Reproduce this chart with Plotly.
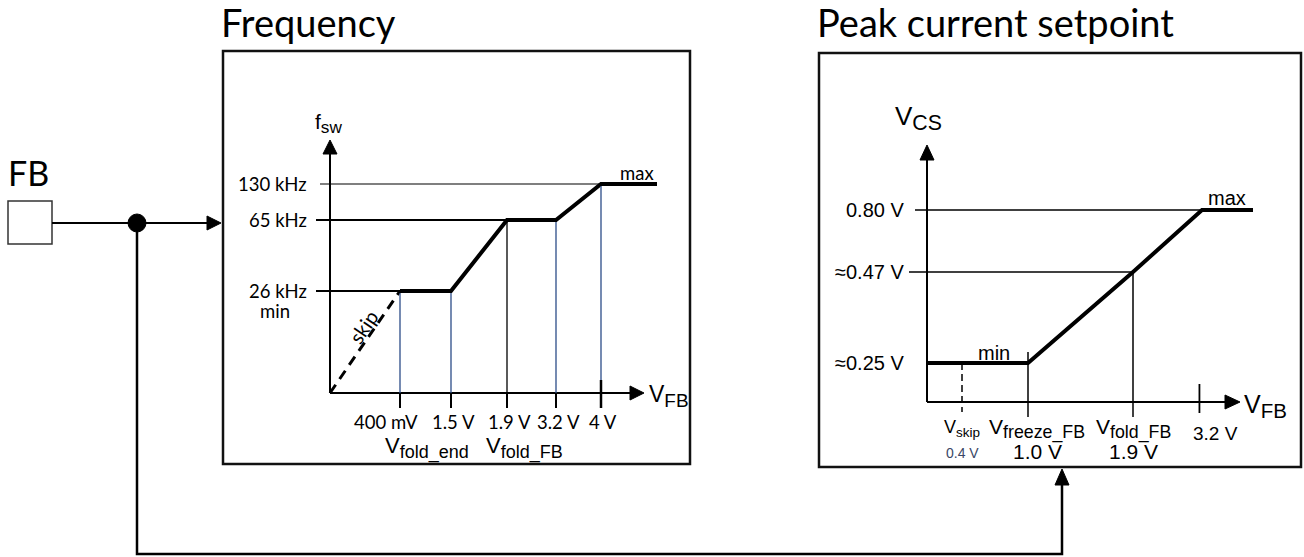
import numpy as np
import plotly.graph_objects as go

# ---------------- data ----------------
# Switching frequency versus feedback voltage
freq_break_v = [0.4, 1.5, 1.9, 3.2, 4.0]
freq_break_labels = ["400 mV", "1.5 V", "1.9 V", "3.2 V", "4 V"]
freq_levels_khz = [26, 65, 130]
freq_level_labels = ["26 kHz", "65 kHz", "130 kHz"]
freq_curve_v = [0.4, 1.5, 1.9, 3.2, 4.0, 4.7]
freq_curve_khz = [26, 26, 65, 65, 130, 130]
freq_skip_v = [0.0, 0.4]
freq_skip_khz = [0, 26]

# Peak current (CS) setpoint versus feedback voltage
vcs_break_v = [0.4, 1.0, 1.9, 3.2]
vcs_levels_v = [0.25, 0.47, 0.80]
vcs_level_labels = ["≈0.25 V", "≈0.47 V", "0.80 V"]
vcs_curve_fb = [0.0, 1.0, 1.9, 3.25, 3.8]
vcs_curve_cs = [0.25, 0.25, 0.47, 0.80, 0.80]

# ---------------- schematic scales (not to scale) ----------------
W, H = 1304, 557
F_X = ([0, 0.4, 1.5, 1.9, 3.2, 4.0, 4.7], [330, 400, 451, 507, 556, 601, 657])
F_Y = ([0, 26, 65, 130], [393, 291, 220, 184])
P_X = ([0, 0.4, 1.0, 1.9, 3.25, 3.8], [927, 962, 1028, 1133, 1202, 1253])
P_Y = ([0, 0.25, 0.47, 0.80], [402, 363, 272, 210])


def sx(v, knots):
    return float(np.interp(v, knots[0], knots[1]))


SANS = "Lato"
ARIAL = "Liberation Sans"
BLUE = "#2c4c88"
INK = "black"

fig = go.Figure()
shapes = []
notes = []


def line(x0, y0, x1, y1, w=2, color=INK, dash=None):
    ln = dict(color=color, width=w)
    if dash:
        ln["dash"] = dash
    shapes.append(dict(type="line", x0=x0, y0=y0, x1=x1, y1=y1, xref="x", yref="y", line=ln))


def tri(pts):
    p = "M " + " L ".join(f"{a},{b}" for a, b in pts) + " Z"
    shapes.append(dict(type="path", path=p, xref="x", yref="y", fillcolor=INK,
                       line=dict(color=INK, width=1)))


def text(x, y, s, size, family=SANS, xa="center", ya="middle", color=INK, angle=0):
    notes.append(dict(x=x, y=y, xref="x", yref="y", text=s, showarrow=False,
                      xanchor=xa, yanchor=ya, textangle=angle,
                      font=dict(size=size, family=family, color=color)))


def sub(main, low, size, ratio=0.82):
    """Symbol with a fairly large subscript."""
    return f'{main}<sub><span style="font-size:{size * ratio:.1f}px">{low}</span></sub>'


# ---------------- frame boxes and titles ----------------
shapes.append(dict(type="rect", x0=223, y0=51, x1=690, y1=464, xref="x", yref="y",
                   line=dict(color="#111", width=2.5)))
shapes.append(dict(type="rect", x0=819, y0=53, x1=1301, y1=467, xref="x", yref="y",
                   line=dict(color="#111", width=2.5)))
text(219, 22, "Frequency", 38, xa="left")
text(815, 22, "Peak current setpoint", 38, xa="left")

# ---------------- FB pin and signal routing ----------------
text(6, 172, "FB", 34, xa="left")
shapes.append(dict(type="rect", x0=8, y0=201, x1=52, y1=244, xref="x", yref="y",
                   line=dict(color="#333", width=1.5)))
line(52, 223, 209, 223, 2)
tri([(221, 223), (207, 216), (207, 230)])
shapes.append(dict(type="path", path="M 137,223 L 137,554 L 1062,554 L 1062,484",
                   xref="x", yref="y", line=dict(color=INK, width=2.5)))
tri([(1062, 469), (1055, 485), (1069, 485)])
shapes.append(dict(type="circle", x0=128, y0=214, x1=146, y1=232, xref="x", yref="y",
                   fillcolor=INK, line=dict(color=INK, width=1)))

# ---------------- Frequency panel ----------------
fo_x, fo_y = sx(0, F_X), sx(0, F_Y)
line(fo_x, fo_y, fo_x, 152, 2)
tri([(fo_x, 140), (fo_x - 7, 154), (fo_x + 7, 154)])
line(fo_x, fo_y, 631, fo_y, 2)
tri([(644, fo_y), (630, fo_y - 7), (630, fo_y + 7)])
text(fo_x - 2, 123, sub("f", "sw", 21), 21, ARIAL)
text(647, fo_y + 3, sub("V", "FB", 23), 23, ARIAL, xa="left")

# horizontal level guides up to where the curve reaches each level
for lvl, lab in zip(freq_levels_khz, freq_level_labels):
    reach = min(v for v, k in zip(freq_curve_v, freq_curve_khz) if k == lvl)
    y = sx(lvl, F_Y)
    x_start = 320 if lvl == max(freq_levels_khz) else 316
    line(x_start, y, sx(reach, F_X), y, 1.2 if lvl == max(freq_levels_khz) else 2)
    text(309, y, lab, 18.5, xa="right")
text(275, 311, "min", 18.5)

# drop lines and ticks at the breakpoints
for v, lab in zip(freq_break_v, freq_break_labels):
    x = sx(v, F_X)
    ytop = sx(float(np.interp(v, freq_curve_v, freq_curve_khz)), F_Y)
    col = INK if v == 1.9 else BLUE
    line(x, ytop + 2, x, fo_y, 1.3, col)
    line(x, fo_y, x, 408, 2)
    text(x + (-14 if v == 0.4 else 2), 422, lab, 18.5)
line(sx(4.0, F_X), 380, sx(4.0, F_X), 408, 2.5)
text(sx(1.0, F_X) - 1, 448, sub("V", "fold_end", 22), 22, ARIAL)
text(sx(2.35, F_X) + 1, 448, sub("V", "fold_FB", 22), 22, ARIAL)

fig.add_trace(go.Scatter(x=[sx(v, F_X) for v in freq_skip_v],
                         y=[sx(k, F_Y) for k in freq_skip_khz], mode="lines",
                         line=dict(color=INK, width=3, dash="10px,7px"), hoverinfo="skip"))
fig.add_trace(go.Scatter(x=[sx(v, F_X) for v in freq_curve_v],
                         y=[sx(k, F_Y) for k in freq_curve_khz], mode="lines",
                         line=dict(color=INK, width=4), hoverinfo="skip"))
text(637, 173, "max", 18.5)
text(363, 327, "skip", 20, angle=-56)

# ---------------- Peak current panel ----------------
po_x, po_y = sx(0, P_X), sx(0, P_Y)
line(po_x, po_y, po_x, 158, 2)
tri([(po_x, 145), (po_x - 7, 160), (po_x + 7, 160)])
line(po_x, po_y, 1226, po_y, 2)
tri([(1240, po_y), (1225, po_y - 7), (1225, po_y + 7)])
text(po_x - 9, 118, sub("V", "CS", 26), 26, ARIAL)
text(1242, po_y + 4, sub("V", "FB", 25), 25, ARIAL, xa="left")

for lvl, lab in zip(vcs_levels_v, vcs_level_labels):
    y = sx(lvl, P_Y)
    if lvl != min(vcs_levels_v):
        reach = min(v for v, c in zip(vcs_curve_fb, vcs_curve_cs) if c == lvl)
        x_start = 915 if lvl == max(vcs_levels_v) else 909
        line(x_start, y, sx(reach, P_X), y, 1.3)
    text(906, y, lab, 20, ARIAL, xa="right")

# V_skip (dashed), V_freeze, V_fold and 3.2 V markers
xs = sx(vcs_break_v[0], P_X)
line(xs, sx(0.25, P_Y), xs, 412, 1.5, dash="7px,4px")
xf = sx(vcs_break_v[1], P_X)
line(xf, 352, xf, 417, 1.5)
xd = sx(vcs_break_v[2], P_X)
line(xd, sx(0.47, P_Y), xd, 417, 1.5)
xt = sx(vcs_break_v[3], P_X)
line(xt, 384, xt, 413, 1.8)

text(xs, 428, sub("V", "skip", 18, 0.75), 18, ARIAL)
text(xs, 453, "0.4 V", 14, ARIAL, color="#3a4766")
text(xf + 9, 429, sub("V", "freeze_FB", 21, 0.85), 21, ARIAL)
text(xf + 9, 451, "1.0 V", 21, ARIAL)
text(xd, 429, sub("V", "fold_FB", 21, 0.85), 21, ARIAL)
text(xd, 451, "1.9 V", 21, ARIAL)
text(xt + 16, 433, "3.2 V", 19, ARIAL)

fig.add_trace(go.Scatter(x=[sx(v, P_X) for v in vcs_curve_fb],
                         y=[sx(c, P_Y) for c in vcs_curve_cs], mode="lines",
                         line=dict(color=INK, width=4), hoverinfo="skip"))
text(994, 353, "min", 20, ARIAL)
text(1227, 198, "max", 20, ARIAL)

fig.update_layout(
    width=W, height=H, margin=dict(l=0, r=0, t=0, b=0),
    paper_bgcolor="white", plot_bgcolor="white", showlegend=False,
    xaxis=dict(range=[0, W], visible=False, fixedrange=True),
    yaxis=dict(range=[H, 0], visible=False, fixedrange=True),
    shapes=shapes, annotations=notes,
)
fig.write_html("out.html")
